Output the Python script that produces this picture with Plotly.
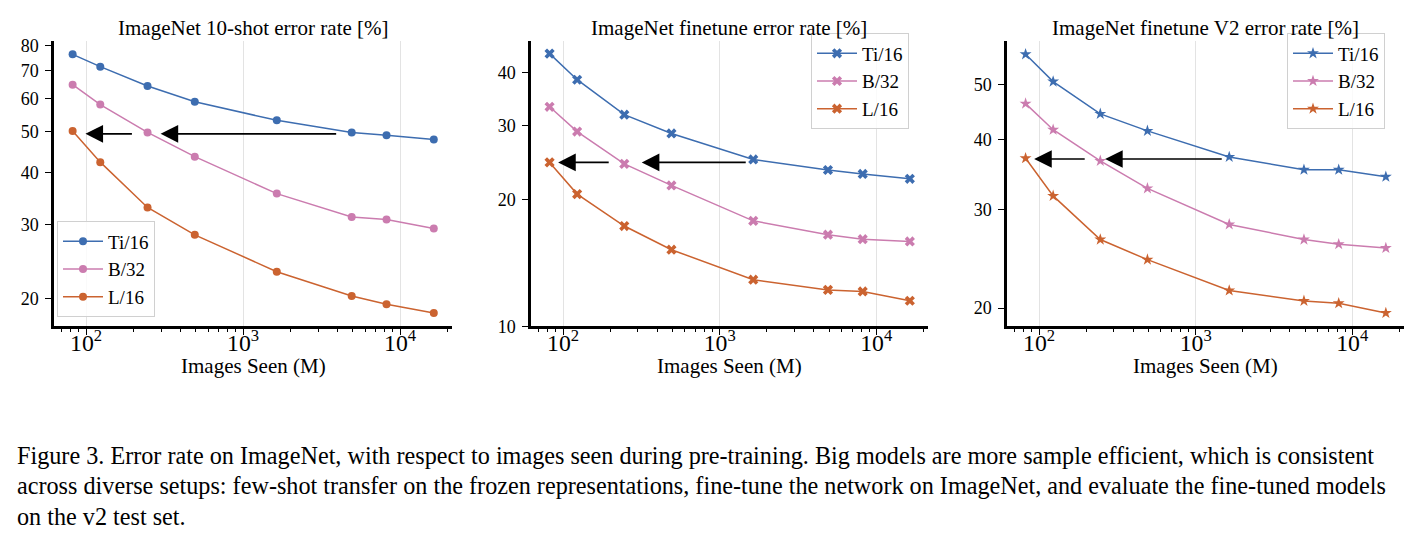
import numpy as np
import plotly.graph_objects as go

W, H = 1412, 537
FONT = "Liberation Serif"

# ---- data ----
images_seen = [82, 123, 246, 492, 1638, 4915, 8192, 16384]
models = ["Ti/16", "B/32", "L/16"]
model_colors = ["#3d6db0", "#cb7caf", "#cb6330"]

err_10shot = {
    "Ti/16": [76.4, 71.4, 64.2, 58.9, 53.2, 49.8, 49.0, 47.9],
    "B/32":  [64.7, 58.0, 49.8, 43.6, 35.6, 31.3, 30.9, 29.4],
    "L/16":  [50.2, 42.3, 33.0, 28.4, 23.2, 20.3, 19.4, 18.5],
}
err_finetune = {
    "Ti/16": [44.4, 38.5, 31.8, 28.7, 24.9, 23.5, 23.0, 22.4],
    "B/32":  [33.2, 29.0, 24.3, 21.6, 17.8, 16.5, 16.1, 15.9],
    "L/16":  [24.5, 20.6, 17.3, 15.2, 12.9, 12.2, 12.1, 11.5],
}
err_v2 = {
    "Ti/16": [56.7, 50.7, 44.4, 41.4, 37.2, 35.3, 35.3, 34.3],
    "B/32":  [46.3, 41.6, 36.6, 32.7, 28.2, 26.5, 26.0, 25.6],
    "L/16":  [37.0, 31.7, 26.5, 24.4, 21.5, 20.6, 20.4, 19.6],
}

titles = [
    "ImageNet 10-shot error rate [%]",
    "ImageNet finetune error rate [%]",
    "ImageNet finetune V2 error rate [%]",
]
y_ticks = [
    [20, 30, 40, 50, 60, 70, 80],
    [10, 20, 30, 40],
    [20, 30, 40, 50],
]
y_ranges = [(17.2, 82.4), (10.0, 47.7), (18.56, 60.0)]
x_range = (62.4, 21400)
markers = ["circle", "x", "star"]

# arrows: (tail x, head x, y)
arrows = [
    [(4000, 298, 49.4), (200, 99, 49.4)],
    [(1500, 318, 24.5), (200, 93, 24.5)],
    [(1500, 264, 36.9), (200, 93, 36.9)],
]

caption = [
    "Figure 3. Error rate on ImageNet, with respect to images seen during pre-training. Big models are more sample efficient, which is consistent",
    "across diverse setups: few-shot transfer on the frozen representations, fine-tune the network on ImageNet, and evaluate the fine-tuned models",
    "on the v2 test set.",
]

# panel positions in pixels (plot area)
panel_px = [(46, 444), (523, 920), (999, 1396)]
top_px, bot_px = 29.3, 322.7

datasets = [err_10shot, err_finetune, err_v2]

fig = go.Figure()
annotations = []
layout = {}

for i, (data, sym) in enumerate(zip(datasets, markers)):
    n = "" if i == 0 else str(i + 1)
    xa, ya = "x" + n, "y" + n
    leg = "legend" + n
    for m, c in zip(models, model_colors):
        fig.add_trace(go.Scatter(
            x=images_seen, y=data[m], name=m,
            mode="lines+markers",
            line=dict(color=c, width=1.5),
            marker=dict(symbol=sym, size=8 if sym == "circle" else 9, color=c),
            xaxis=xa, yaxis=ya, legend=leg,
        ))

    x0, x1 = panel_px[i]
    layout["xaxis" + n] = dict(
        domain=[x0 / W, x1 / W], anchor=ya, type="log",
        range=[np.log10(x_range[0]), np.log10(x_range[1])],
        dtick=1, exponentformat="power",
        showline=True, linecolor="black", linewidth=2.5,
        ticks="outside", ticklen=6, tickwidth=1.3, tickcolor="black",
        minor=dict(ticks="outside", ticklen=3, tickwidth=1, tickcolor="black", showgrid=False),
        showgrid=True, gridcolor="#e3e3e3", gridwidth=1,
        zeroline=False, ticklabelstandoff=-12,
        tickfont=dict(family=FONT, size=19, color="black"),
    )
    layout["yaxis" + n] = dict(
        domain=[1 - bot_px / H, 1 - top_px / H], anchor=xa, type="log",
        range=[np.log10(y_ranges[i][0]), np.log10(y_ranges[i][1])],
        tickvals=y_ticks[i], ticktext=[str(v) for v in y_ticks[i]],
        showline=True, linecolor="black", linewidth=2.5,
        ticks="outside", ticklen=6, tickwidth=1.3, tickcolor="black",
        showgrid=False, zeroline=False, ticklabelstandoff=3,
        tickfont=dict(family=FONT, size=18, color="black"),
    )

    lx = dict(font=dict(family=FONT, size=19, color="black"),
              bgcolor="rgba(255,255,255,0.8)", bordercolor="#d0d0d0", borderwidth=1,
              xanchor="left", yanchor="top", tracegroupgap=0, itemwidth=40)
    if i == 0:
        lx.update(x=49 / W, y=1 - 215 / H)
    else:
        lx.update(x=(x1 - 117) / W, y=1 - 22 / H)
    layout[leg] = lx

    cx = (x0 + x1) / 2 / W
    annotations.append(dict(text=titles[i], x=cx, y=1 - 16 / H, xref="paper", yref="paper",
                            xanchor="center", yanchor="middle", showarrow=False,
                            font=dict(family=FONT, size=21, color="black")))
    annotations.append(dict(text="Images Seen (M)", x=cx, y=1 - 363 / H, xref="paper", yref="paper",
                            xanchor="center", yanchor="middle", showarrow=False,
                            font=dict(family=FONT, size=21, color="black")))

    for tail, head, yv in arrows[i]:
        annotations.append(dict(
            x=np.log10(head), y=np.log10(yv), ax=np.log10(tail), ay=np.log10(yv),
            xref=xa, yref=ya, axref=xa, ayref=ya, text="",
            showarrow=True, arrowhead=2, arrowsize=2.2, arrowwidth=1.6, arrowcolor="black",
        ))

for k, line in enumerate(caption):
    annotations.append(dict(text=line, x=7 / W, y=1 - (455 + 31.5 * k) / H, xref="paper", yref="paper",
                            xanchor="left", yanchor="middle", showarrow=False,
                            font=dict(family=FONT, size=24.2, color="black")))

fig.update_layout(
    width=W, height=H,
    margin=dict(l=0, r=0, t=0, b=0),
    paper_bgcolor="white", plot_bgcolor="white",
    font=dict(family=FONT, color="black"),
    annotations=annotations,
    **layout,
)

fig.write_html("out.html")
